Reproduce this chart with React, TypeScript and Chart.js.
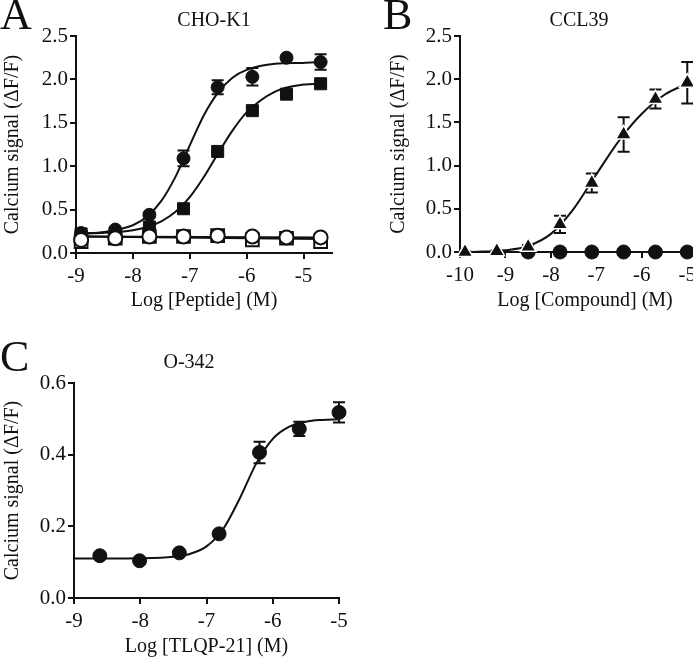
import React, { useEffect, useRef } from "react";
import { Chart, registerables } from "chart.js";

Chart.register(...registerables);

const FONT = '"Liberation Serif", "Times New Roman", Times, serif';
const INK = "#111";

// ---------- Panel A : CHO-K1 ----------
const doseA = [-8.91, -8.31, -7.71, -7.11, -6.51, -5.9, -5.3, -4.7];
const filledCircleA = [0.23, 0.27, 0.44, 1.09, 1.91, 2.03, 2.25, 2.2];
const filledCircleErrA = [0.02, 0.02, 0.03, 0.09, 0.08, 0.1, 0.02, 0.09];
const filledSquareA = [0.22, 0.22, 0.3, 0.51, 1.17, 1.64, 1.83, 1.95];
const filledSquareErrA = [0.02, 0.02, 0.02, 0.03, 0.03, 0.03, 0.03, 0.03];
const openCircleA = [0.15, 0.17, 0.19, 0.19, 0.2, 0.19, 0.18, 0.18];
const openSquareA = [0.13, 0.17, 0.19, 0.19, 0.2, 0.15, 0.17, 0.13];
const fitXA = [-8.91, -8.5, -8, -7.75, -7.5, -7.25, -7, -6.75, -6.5, -6.25, -6, -5.5, -5, -4.7];
const filledCircleFitA = [0.226, 0.243, 0.32, 0.42, 0.6, 0.88, 1.24, 1.59, 1.85, 2.02, 2.11, 2.18, 2.19, 2.2];
const filledSquareFitA = [0.224, 0.232, 0.263, 0.3, 0.365, 0.474, 0.644, 0.878, 1.15, 1.41, 1.62, 1.86, 1.94, 1.95];
const openFitXA = [-8.91, -4.7];
const openCircleFitA = [0.19, 0.18];
const openSquareFitA = [0.19, 0.16];
const xTicksA = [-9, -8, -7, -6, -5];
const yTicksA = [0, 0.5, 1, 1.5, 2, 2.5];

// ---------- Panel B : CCL39 ----------
const doseB = [-9.89, -9.19, -8.5, -7.8, -7.1, -6.4, -5.7, -5.0];
const triangleB = [0.0, 0.01, 0.06, 0.32, 0.8, 1.36, 1.77, 1.96];
const triangleErrB = [0.01, 0.01, 0.02, 0.1, 0.11, 0.2, 0.11, 0.24];
const circleDoseB = [-8.5, -7.8, -7.1, -6.4, -5.7, -5.0];
const circleB = [0, 0, 0, 0, 0, 0];
const fitXB = [-9.89, -9.5, -9, -8.5, -8, -7.5, -7, -6.5, -6, -5.5, -5];
const triangleFitB = [0, 0.005, 0.02, 0.07, 0.21, 0.5, 0.9, 1.29, 1.6, 1.82, 1.95];
const xTicksB = [-10, -9, -8, -7, -6, -5];
const yTicksB = [0, 0.5, 1, 1.5, 2, 2.5];

// ---------- Panel C : O-342 ----------
const doseC = [-8.61, -8.01, -7.41, -6.81, -6.2, -5.6, -5.0];
const circleC = [0.118, 0.104, 0.126, 0.179, 0.406, 0.472, 0.518];
const circleErrC = [0.005, 0.005, 0.005, 0.008, 0.03, 0.02, 0.028];
const fitXC = [-9, -8, -7.5, -7.25, -7, -6.75, -6.5, -6.25, -6, -5.75, -5.5, -5.25, -5];
const circleFitC = [0.11, 0.111, 0.115, 0.123, 0.144, 0.192, 0.277, 0.375, 0.444, 0.478, 0.492, 0.497, 0.499];
const xTicksC = [-9, -8, -7, -6, -5];
const yTicksC = [0, 0.2, 0.4, 0.6];

const zip = (xs: number[], ys: number[]) => xs.map((x, i) => ({ x, y: ys[i] }));

const errorBarPlugin = {
  id: "errorBars",
  beforeDatasetsDraw(chart: any) {
    const ctx = chart.ctx;
    const ys = chart.scales.y;
    chart.data.datasets.forEach((ds: any, i: number) => {
      const errs = ds.errors as number[] | undefined;
      if (!errs) return;
      const meta = chart.getDatasetMeta(i);
      ctx.save();
      ctx.strokeStyle = INK;
      ctx.lineWidth = 2;
      ds.data.forEach((p: any, j: number) => {
        const e = errs[j];
        if (!e) return;
        const px = meta.data[j].x;
        const t = ys.getPixelForValue(p.y + e);
        const b = ys.getPixelForValue(p.y - e);
        ctx.beginPath();
        ctx.moveTo(px, t);
        ctx.lineTo(px, b);
        ctx.moveTo(px - 6, t);
        ctx.lineTo(px + 6, t);
        ctx.moveTo(px - 6, b);
        ctx.lineTo(px + 6, b);
        ctx.stroke();
      });
      ctx.restore();
    });
  },
};

function fitLine(xs: number[], ys: number[], order: number) {
  return {
    type: "line",
    data: zip(xs, ys),
    borderColor: INK,
    borderWidth: 2,
    pointRadius: 0,
    showLine: true,
    cubicInterpolationMode: "monotone",
    clip: false,
    order,
  };
}

function markers(xs: number[], ys: number[], style: string, radius: number, filled: boolean, order: number, errors?: number[]) {
  return {
    type: "line",
    data: zip(xs, ys),
    showLine: false,
    pointStyle: style,
    pointRadius: radius,
    pointBackgroundColor: filled ? INK : "#fff",
    pointBorderColor: INK,
    pointBorderWidth: filled ? 1 : 2,
    clip: false,
    order,
    errors,
  };
}

type AxisSpec = {
  xMin: number;
  xMax: number;
  xTicks: number[];
  yMax: number;
  yTicks: number[];
  xTitle: string;
  padding: { top: number; right: number; left: number; bottom: number };
  yWidth: number;
  xHeight: number;
  yTitlePad: number;
  xTitlePad: number;
};

function makeOptions(a: AxisSpec) {
  const tickFont = { family: FONT, size: 21 };
  const titleFont = { family: FONT, size: 20, lineHeight: 1 };
  const grid = { drawOnChartArea: false, drawTicks: true, tickLength: 6, color: INK, lineWidth: 2 };
  const border = { display: true, color: INK, width: 2 };
  return {
    responsive: false,
    animation: false,
    devicePixelRatio: 1,
    layout: { padding: a.padding, autoPadding: false },
    plugins: { legend: { display: false }, tooltip: { enabled: false }, title: { display: false } },
    scales: {
      x: {
        type: "linear",
        min: a.xMin,
        max: a.xMax,
        afterBuildTicks: (s: any) => {
          s.ticks = a.xTicks.map((v) => ({ value: v }));
        },
        afterFit: (s: any) => {
          s.height = a.xHeight;
          s.paddingLeft = 0;
          s.paddingRight = 0;
        },
        border,
        grid,
        ticks: { color: INK, font: tickFont, padding: 5, autoSkip: false, maxRotation: 0, callback: (v: any) => String(v) },
        title: { display: true, text: a.xTitle, color: INK, font: titleFont, padding: { top: 0, bottom: a.xTitlePad } },
      },
      y: {
        type: "linear",
        min: 0,
        max: a.yMax,
        afterBuildTicks: (s: any) => {
          s.ticks = a.yTicks.map((v) => ({ value: v }));
        },
        afterFit: (s: any) => {
          s.width = a.yWidth;
          s.paddingTop = 0;
          s.paddingBottom = 0;
        },
        border,
        grid,
        ticks: { color: INK, font: tickFont, padding: 2, autoSkip: false, callback: (v: any) => Number(v).toFixed(1) },
        title: {
          display: true,
          text: "Calcium signal (\u0394F/F)",
          color: INK,
          font: titleFont,
          padding: { top: a.yTitlePad, bottom: 0 },
        },
      },
    },
  };
}

function Panel(props: { left: number; top: number; width: number; height: number; build: () => any }) {
  const ref = useRef<HTMLCanvasElement>(null);
  useEffect(() => {
    const chart = new Chart(ref.current as HTMLCanvasElement, props.build());
    return () => chart.destroy();
  }, []);
  return (
    <div style={{ position: "absolute", left: props.left, top: props.top, width: props.width, height: props.height }}>
      <canvas ref={ref} width={props.width} height={props.height} style={{ display: "block", width: props.width, height: props.height }} />
    </div>
  );
}

const buildA = () => ({
  type: "scatter",
  data: {
    datasets: [
      markers(doseA, openCircleA, "circle", 7, false, 0),
      markers(doseA, openSquareA, "rect", 9, false, 1),
      markers(doseA, filledCircleA, "circle", 6.5, true, 2, filledCircleErrA),
      markers(doseA, filledSquareA, "rect", 8.5, true, 3, filledSquareErrA),
      fitLine(fitXA, filledCircleFitA, 4),
      fitLine(fitXA, filledSquareFitA, 5),
      fitLine(openFitXA, openCircleFitA, 6),
      fitLine(openFitXA, openSquareFitA, 7),
    ],
  },
  options: makeOptions({
    xMin: -9,
    xMax: -4.5,
    xTicks: xTicksA,
    yMax: 2.5,
    yTicks: yTicksA,
    xTitle: "Log [Peptide] (M)",
    padding: { top: 36, right: 13, left: 0, bottom: 0 },
    yWidth: 76,
    xHeight: 67,
    yTitlePad: 3,
    xTitlePad: 9,
  }),
  plugins: [errorBarPlugin],
});

const buildB = () => ({
  type: "scatter",
  data: {
    datasets: [
      { ...markers(doseB, triangleB, "triangle", 9, true, 0, triangleErrB), pointBorderColor: "#fff", pointBorderWidth: 1.5 },
      markers(circleDoseB, circleB, "circle", 7, true, 1),
      fitLine(fitXB, triangleFitB, 2),
    ],
  },
  options: makeOptions({
    xMin: -10,
    xMax: -4.5,
    xTicks: xTicksB,
    yMax: 2.5,
    yTicks: yTicksB,
    xTitle: "Log [Compound] (M)",
    padding: { top: 36, right: 0, left: 0, bottom: 0 },
    yWidth: 80,
    xHeight: 68,
    yTitlePad: 9,
    xTitlePad: 9,
  }),
  plugins: [errorBarPlugin],
});

const buildC = () => ({
  type: "scatter",
  data: {
    datasets: [markers(doseC, circleC, "circle", 7, true, 0, circleErrC), fitLine(fitXC, circleFitC, 1)],
  },
  options: makeOptions({
    xMin: -9,
    xMax: -5,
    xTicks: xTicksC,
    yMax: 0.6,
    yTicks: yTicksC,
    xTitle: "Log [TLQP-21] (M)",
    padding: { top: 53, right: 21, left: 0, bottom: 0 },
    yWidth: 74,
    xHeight: 59,
    yTitlePad: 3,
    xTitlePad: 0,
  }),
  plugins: [errorBarPlugin],
});

const letterStyle = (left: number, top: number): React.CSSProperties => ({
  position: "absolute",
  left,
  top,
  fontFamily: FONT,
  fontSize: 44,
  lineHeight: 1,
  color: INK,
});

const titleStyle = (cx: number, top: number): React.CSSProperties => ({
  position: "absolute",
  left: cx - 100,
  width: 200,
  top,
  textAlign: "center",
  fontFamily: FONT,
  fontSize: 20,
  lineHeight: 1,
  color: INK,
});

export default function App() {
  return (
    <div style={{ position: "absolute", left: 0, top: 0, width: 693, height: 657, overflow: "hidden", background: "#fff" }}>
      <Panel left={0} top={0} width={345} height={320} build={buildA} />
      <Panel left={380} top={0} width={330} height={320} build={buildB} />
      <Panel left={0} top={330} width={360} height={327} build={buildC} />
      <div style={letterStyle(0, -7)}>A</div>
      <div style={letterStyle(383, -7)}>B</div>
      <div style={letterStyle(0, 335)}>C</div>
      <div style={titleStyle(214, 9)}>CHO-K1</div>
      <div style={titleStyle(579, 9)}>CCL39</div>
      <div style={titleStyle(189, 351)}>O-342</div>
    </div>
  );
}
